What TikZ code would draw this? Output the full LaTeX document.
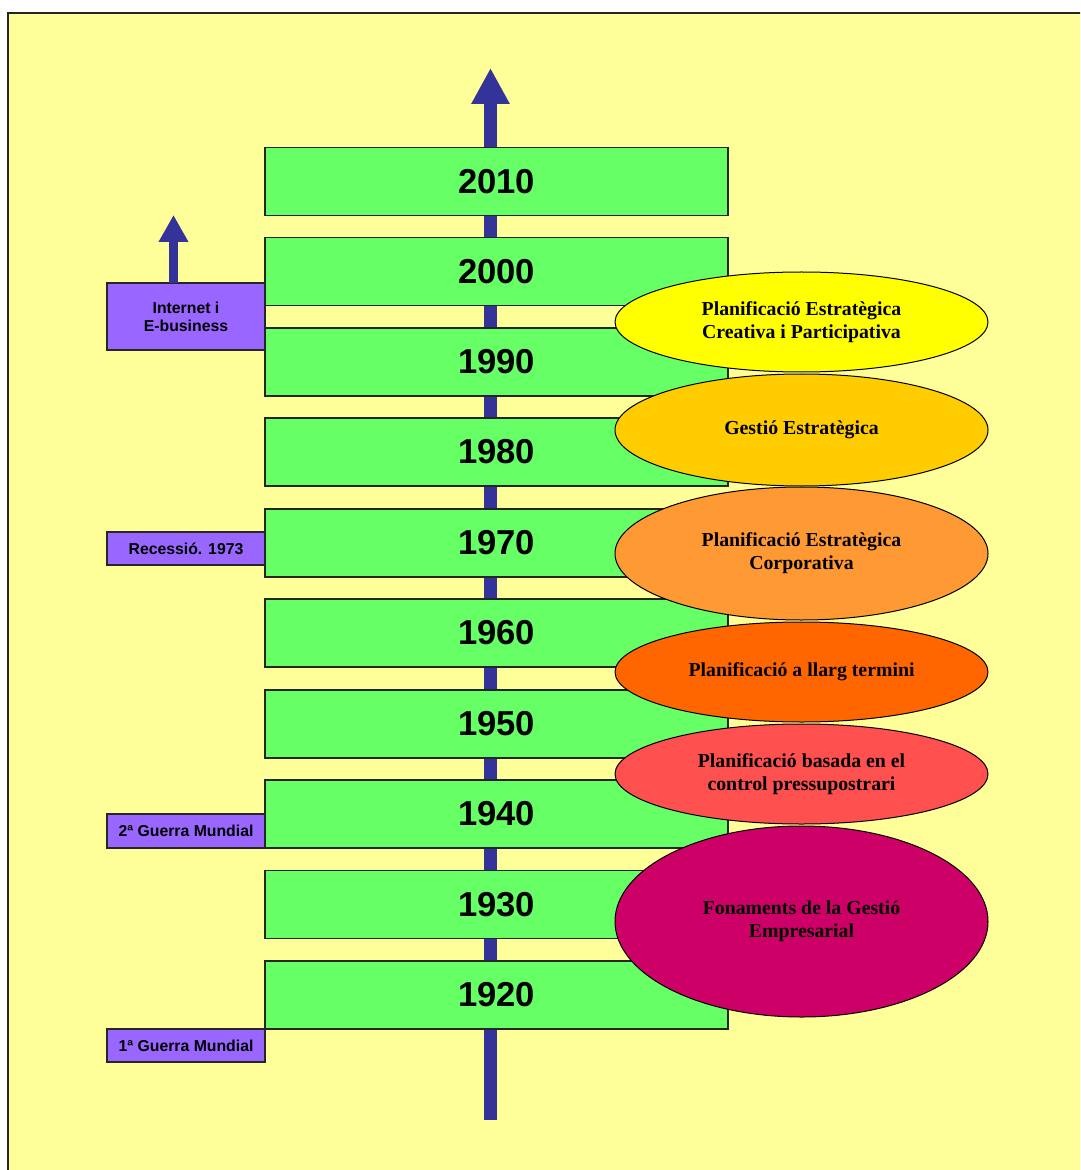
\documentclass[tikz,border=0pt]{standalone}
\usepackage{fontspec}
\setmainfont{Liberation Serif}
\setsansfont{Liberation Sans}
\usetikzlibrary{shapes.geometric,arrows.meta}
\definecolor{bg}{HTML}{FFFF99}
\definecolor{grn}{HTML}{66FF66}
\definecolor{pur}{HTML}{9966FF}
\definecolor{axc}{HTML}{333399}
\definecolor{eA}{HTML}{FFFF00}
\definecolor{eB}{HTML}{FFCC00}
\definecolor{eC}{HTML}{FF9933}
\definecolor{eD}{HTML}{FF6600}
\definecolor{eE}{HTML}{FF5050}
\definecolor{eF}{HTML}{CC0066}
\begin{document}
\begin{tikzpicture}[x=0.5pt,y=-0.5pt,
  yearbox/.style={draw=black!85, line width=0.75pt, fill=grn, minimum width=231.5pt, minimum height=33.8pt, inner sep=0pt, outer sep=0pt, font=\sffamily\bfseries\fontsize{17.3}{20}\selectfont},
  evbox/.style={draw=black!85, line width=0.75pt, fill=pur, minimum width=79pt, inner sep=0pt, outer sep=0pt, align=center, font=\sffamily\bfseries\fontsize{7.9}{9}\selectfont},
  era/.style={ellipse, draw=black, line width=0.5pt, minimum width=186.5pt, inner sep=0pt, outer sep=0pt, align=center, font=\rmfamily\bfseries\fontsize{9.9}{11.6}\selectfont},
  axisarrow/.style={draw=axc, line width=6.5pt, -{Triangle[width=18pt,length=18pt]}},
  smallarrow/.style={draw=axc, line width=4.5pt, -{Triangle[width=14pt,length=13.5pt]}}
]
\useasboundingbox (0,0) rectangle (1080,1170);
\clip (0,0) rectangle (1080,1170);
\fill[white] (0,0) rectangle (1080,1170);
\draw[fill=bg, line width=1pt, draw=black!85] (8,13) rectangle (1110,1200);

% axis
\coordinate (axb) at (490.5,1120);
\coordinate (axt) at (490.5,68);
\draw[axisarrow] (axb) -- (axt);

% year boxes
\node[yearbox] (y2010) at (496.5,181.5) {2010};
\node[yearbox] (y2000) at (496.5,271.5) {2000};
\node[yearbox] (y1990) at (496.5,362) {1990};
\node[yearbox] (y1980) at (496.5,452) {1980};
\node[yearbox] (y1970) at (496.5,543) {1970};
\node[yearbox] (y1960) at (496.5,633) {1960};
\node[yearbox] (y1950) at (496.5,724) {1950};
\node[yearbox] (y1940) at (496.5,814) {1940};
\node[yearbox] (y1930) at (496.5,904.5) {1930};
\node[yearbox] (y1920) at (496.5,995) {1920};

% event boxes
\node[evbox, minimum height=33.5pt] (ev1) at (186,316.5) {Internet i\\E-business};
\node[evbox, minimum height=16.5pt] (ev2) at (186,548.5) {Recessió. 1973};
\node[evbox, minimum height=17pt] (ev3) at (186,831) {2ª Guerra Mundial};
\node[evbox, minimum height=16.5pt] (ev4) at (186,1045.5) {1ª Guerra Mundial};

\coordinate (sat) at (173.5,215);
\coordinate (sab) at (173.5,283);
\draw[smallarrow] (sab) -- (sat);

% eras
\node[era, fill=eA, minimum height=50pt] (e1) at (801.5,322) {Planificació Estratègica\\Creativa i Participativa};
\node[era, fill=eB, minimum height=56pt] (e2) at (801.5,430) {Gestió Estratègica};
\node[era, fill=eC, minimum height=66.5pt] (e3) at (801.5,553.5) {Planificació Estratègica\\Corporativa};
\node[era, fill=eD, minimum height=50pt] (e4) at (801.5,672) {Planificació a llarg termini};
\node[era, fill=eE, minimum height=50pt] (e5) at (801.5,774) {Planificació basada en el\\control pressupostrari};
\node[era, fill=eF, minimum height=95.5pt] (e6) at (801.5,921.5) {Fonaments de la Gestió\\Empresarial};
\end{tikzpicture}
\end{document}
